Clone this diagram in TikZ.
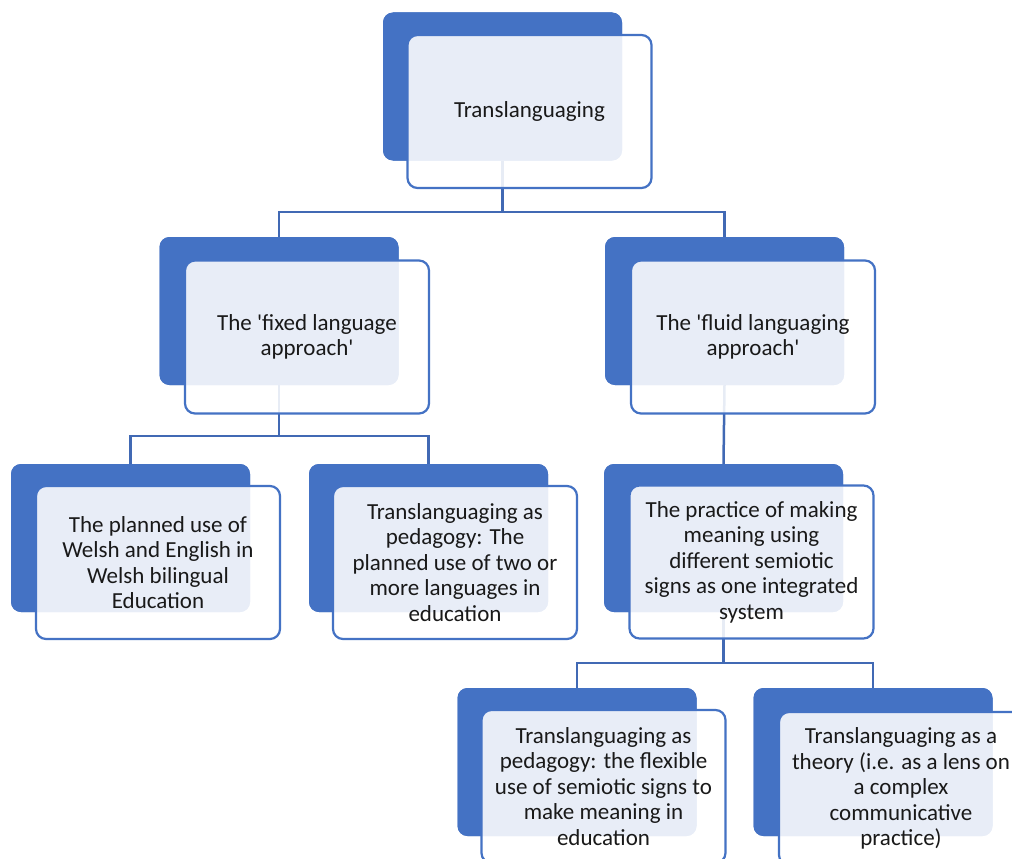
\documentclass[tikz,border=0pt]{standalone}
\usepackage{fontspec}
\setmainfont{Carlito}[Ligatures=TeXOff]
\definecolor{offblue}{HTML}{4472C4}
\definecolor{linkblue}{HTML}{4169B4}
\begin{document}
\begin{tikzpicture}[x=1pt,y=-1pt,
  backbox/.style={draw=none,fill=offblue,rounded corners=10pt,minimum width=239pt,minimum height=148pt,inner sep=0pt},
  frontbox/.style={draw=offblue,line width=2.2pt,fill=white,fill opacity=0.88,text opacity=1,rounded corners=10pt,minimum width=244pt,minimum height=153pt,inner sep=0pt,align=center,font=\fontsize{23pt}{25.5pt}\selectfont,text=black!90},
  link/.style={draw=linkblue,line width=2.5pt}]
\useasboundingbox (0,0) rectangle (1012,859);
\clip (0,0) rectangle (1012,859);
\fill[white] (0,0) rectangle (1012,859);
% bus levels
\coordinate (busA) at (0,212);
\coordinate (busB) at (0,436);
\coordinate (busC) at (0,663);
% back boxes
\node[backbox] (tB) at (502.5,86.5) {};
\node[backbox] (fixB) at (279,311) {};
\node[backbox] (fluB) at (724.5,311) {};
\node[backbox] (welB) at (130.5,538) {};
\node[backbox] (pedaB) at (428.5,538) {};
\node[backbox] (praB) at (723.5,538) {};
\node[backbox] (pedbB) at (577,762) {};
\node[backbox] (theB) at (873,762) {};
% connectors
\draw[link] (tB.south) |- (fixB.north |- busA) -- (fixB.north);
\draw[link] (tB.south) |- (fluB.north |- busA) -- (fluB.north);
\draw[link] (fixB.south) |- (welB.north |- busB) -- (welB.north);
\draw[link] (fixB.south) |- (pedaB.north |- busB) -- (pedaB.north);
\draw[link] (fluB.south) -- (praB.north);
\draw[link] (praB.south) |- (pedbB.north |- busC) -- (pedbB.north);
\draw[link] (praB.south) |- (theB.north |- busC) -- (theB.north);
% redraw back boxes over connector ends
\node[backbox] at (tB) {};
\node[backbox] at (fixB) {};
\node[backbox] at (fluB) {};
\node[backbox] at (welB) {};
\node[backbox] at (pedaB) {};
\node[backbox] at (praB) {};
\node[backbox] at (pedbB) {};
\node[backbox] at (theB) {};
% front boxes
\node[frontbox] (tF) at (529.5,111.5) {Translanguaging};
\node[frontbox] (fixF) at (307,337) {The 'fixed language\\approach'};
\node[frontbox] (fluF) at (753,337) {The 'fluid languaging\\approach'};
\node[frontbox] (welF) at (158,562.5) {The planned use of\\Welsh and English in\\Welsh bilingual\\Education};
\node[frontbox] (pedaF) at (455,562.5) {Translanguaging as\\pedagogy: The\\planned use of two or\\more languages in\\education};
\node[frontbox] (praF) at (751.5,562) {The practice of making\\meaning using\\different semiotic\\signs as one integrated\\system};
\node[frontbox] (pedbF) at (603.5,786.5) {Translanguaging as\\pedagogy: the flexible\\use of semiotic signs to\\make meaning in\\education};
\node[frontbox] (theF) at (901,788.5) {Translanguaging as a\\theory (i.e. as a lens on\\a complex\\communicative\\practice)};
\end{tikzpicture}
\end{document}
